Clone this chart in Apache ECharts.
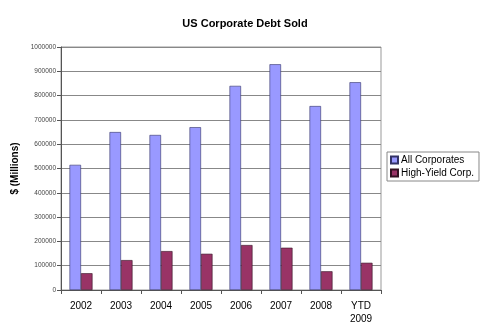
<!DOCTYPE html>
<html>
<head>
<meta charset="utf-8">
<script src="https://cdn.jsdelivr.net/npm/echarts@6/dist/echarts.min.js"></script>
<style>
  html, body { margin: 0; padding: 0; background: #fff; }
  #chart { width: 490px; height: 335px; }
</style>
</head>
<body>
<div id="chart"></div>
<script>
// Years of issuance (last one is year-to-date)
const categories = ['2002', '2003', '2004', '2005', '2006', '2007', '2008', 'YTD\n2009'];
// Debt sold, $ millions
const allCorporates = [515000, 650000, 638000, 670000, 840000, 929000, 757000, 855000];
const highYield = [69000, 123000, 160000, 149000, 185000, 174000, 77000, 112000];
const yTicks = [0, 100000, 200000, 300000, 400000, 500000, 600000, 700000, 800000, 900000, 1000000];

const font = '"Liberation Sans", Arial, sans-serif';
const chart = echarts.init(document.getElementById('chart'));

chart.setOption({
  backgroundColor: '#fff',
  animation: false,
  title: {
    text: 'US Corporate Debt Sold',
    left: 'center',
    top: 13,
    textStyle: { fontFamily: font, fontSize: 11, fontWeight: 'bold', color: '#000' }
  },
  legend: {
    orient: 'vertical',
    left: 387,
    top: 152,
    padding: [3, 5, 3, 3],
    itemGap: 3,
    itemWidth: 7,
    itemHeight: 7,
    borderColor: '#888',
    borderWidth: 1,
    icon: 'rect',
    textStyle: { fontFamily: font, fontSize: 10, color: '#000', padding: [0, 0, 0, -2] },
    data: ['All Corporates', 'High-Yield Corp.']
  },
  grid: {
    left: 61,
    right: 109,
    top: 47,
    bottom: 45,
    show: true,
    borderColor: '#999',
    borderWidth: 1,
    backgroundColor: '#fff'
  },
  xAxis: {
    type: 'category',
    data: categories,
    boundaryGap: true,
    axisLine: { lineStyle: { color: '#555', width: 1 } },
    axisTick: { show: true, length: 4, alignWithLabel: false, lineStyle: { color: '#555' } },
    axisLabel: { fontFamily: font, fontSize: 10, color: '#000', margin: 10, lineHeight: 13, interval: 0 }
  },
  yAxis: {
    type: 'value',
    min: yTicks[0],
    max: yTicks[yTicks.length - 1],
    interval: yTicks[1] - yTicks[0],
    name: '$ (Millions)',
    nameLocation: 'middle',
    nameGap: 36,
    nameTextStyle: { fontFamily: font, fontSize: 10, fontWeight: 'bold', color: '#000' },
    axisLine: { show: true, lineStyle: { color: '#555', width: 1 } },
    axisTick: { show: true, length: 4, lineStyle: { color: '#555' } },
    axisLabel: { fontFamily: font, fontSize: 6.5, color: '#444', margin: 5, formatter: v => String(v) },
    splitLine: { lineStyle: { color: '#888', width: 1 } }
  },
  series: [
    {
      name: 'All Corporates',
      type: 'bar',
      data: allCorporates,
      barWidth: 11.5,
      barGap: '0%',
      itemStyle: { color: '#9999FF', borderColor: '#333366', borderWidth: 0.6 }
    },
    {
      name: 'High-Yield Corp.',
      type: 'bar',
      data: highYield,
      barWidth: 11.5,
      barGap: '0%',
      itemStyle: { color: '#993366', borderColor: '#331122', borderWidth: 0.6 }
    }
  ]
});
</script>
</body>
</html>
